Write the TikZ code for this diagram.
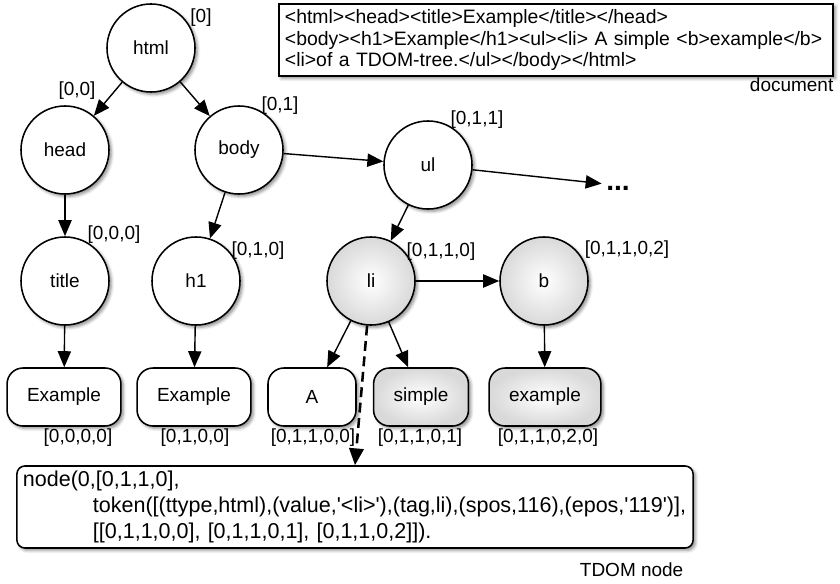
\documentclass[tikz,border=0pt]{standalone}
\usepackage{fontspec}
\setmainfont{Liberation Sans}
\usetikzlibrary{arrows.meta}
\usetikzlibrary{shadows.blur}

\begin{document}
\begin{tikzpicture}[x=0.025cm,y=-0.025cm,
  font=\fontsize{13.5pt}{16pt}\selectfont,
  softshadow/.style={blur shadow={shadow xshift=0.6mm,shadow yshift=-0.6mm,shadow blur steps=4,shadow opacity=45}},
  tnode/.style={circle,draw,line width=1.1pt,minimum size=2.2cm,inner sep=0pt,softshadow},
  leaf/.style={rectangle,rounded corners=0.4cm,draw,line width=1.1pt,minimum width=2.2cm,minimum height=1.45cm,inner xsep=0.5cm,softshadow},
  plain/.style={fill=white},
  litshade/.style={shade,inner color=white,outer color=black!15},
  idx/.style={inner sep=1pt},
  tree/.style={-{Triangle[length=4mm,width=3.3mm]},line width=1pt},
  tdomarrow/.style={-{Triangle[length=4.2mm,width=3.6mm]},line width=1.8pt,dash pattern=on 7pt off 4pt}]
\useasboundingbox (0,0) rectangle (840,584);

% source document
\node[draw,fill=white,line width=1.1pt,softshadow,text width=13.55cm,align=left,inner xsep=0.15cm,
  minimum height=1.8cm,font=\fontsize{13.8pt}{15.6pt}\selectfont] (doc) at (556,40)
  {<html><head><title>Example</title></head>\\
   <body><h1>Example</h1><ul><li> A simple <b>example</b>\\
   <li>of a TDOM-tree.</ul></body></html>};
\node[anchor=east,idx] (doclbl) at (835,85) {document};

% tree nodes
\node[tnode,plain] (html) at (151,48) {html};
\node[tnode,plain] (head) at (65,150) {head};
\node[tnode,plain] (body) at (239,150) {body};
\node[tnode,plain] (ul) at (428,165) {ul};
\node[inner xsep=0.25cm,inner ysep=0.05cm,font=\fontsize{20pt}{20pt}\selectfont\bfseries] (more) at (618,188) {...};
\node[tnode,plain] (title) at (65,281) {title};
\node[tnode,plain] (h1) at (196,281) {h1};
\node[tnode,litshade] (li) at (371,281) {li};
\node[tnode,litshade] (b) at (544,281) {b};

% leaves
\node[leaf,plain] (ex0) at (64,397) {Example};
\node[leaf,plain] (ex1) at (194,397) {Example};
\node[leaf,plain] (txtA) at (312,397) {A};
\node[leaf,litshade] (simple) at (421,397) {simple};
\node[leaf,litshade] (example) at (545,397) {example};

% positions
\node[idx] (p0) at (201,18) {[0]};
\node[idx] (p00) at (77,91) {[0,0]};
\node[idx] (p01) at (280,106) {[0,1]};
\node[idx] (p011) at (477,120) {[0,1,1]};
\node[idx] (p000) at (114,235) {[0,0,0]};
\node[idx] (p010) at (258,251) {[0,1,0]};
\node[idx] (p0110) at (441,252) {[0,1,1,0]};
\node[idx] (p01102) at (627,250) {[0,1,1,0,2]};
\node[idx] (p0000) at (78,438) {[0,0,0,0]};
\node[idx] (p0100) at (195,438) {[0,1,0,0]};
\node[idx] (p01100) at (313,438) {[0,1,1,0,0]};
\node[idx] (p01101) at (420,438) {[0,1,1,0,1]};
\node[idx] (p011020) at (548,438) {[0,1,1,0,2,0]};

% TDOM node
\node[draw,fill=white,line width=1.1pt,rounded corners=0.2cm,softshadow,text width=16.6cm,align=left,
  inner xsep=0.15cm,minimum height=2.05cm,font=\fontsize{15.3pt}{18.7pt}\selectfont] (tdom) at (355,507)
  {node(0,[0,1,1,0],\\
   \hspace*{1.75cm}token([(ttype,html),(value,\textquotesingle<li>\textquotesingle),(tag,li),(spos,116),(epos,\textquotesingle 119\textquotesingle)],\\
   \hspace*{1.75cm}[[0,1,1,0,0], [0,1,1,0,1], [0,1,1,0,2]]).};
\node[anchor=east,idx] (tdomlbl) at (685,570) {TDOM node};

\draw[tree] (html) -- (head);
\draw[tree] (html) -- (body);
\draw[tree] (head) -- (title);
\draw[tree] (body) -- (h1);
\draw[tree] (body) -- (ul);
\draw[tree] (ul) -- (more.165);
\draw[tree] (ul) -- (li);
\draw[tree] (li) -- (b);
\draw[tree] (title) -- (ex0);
\draw[tree] (h1) -- (ex1);
\draw[tree] (li) -- (txtA);
\draw[tree] (li) -- (simple);
\draw[tree] (b) -- (example);
\draw[tdomarrow] (li.265) -- (tdom.north);
\end{tikzpicture}
\end{document}
